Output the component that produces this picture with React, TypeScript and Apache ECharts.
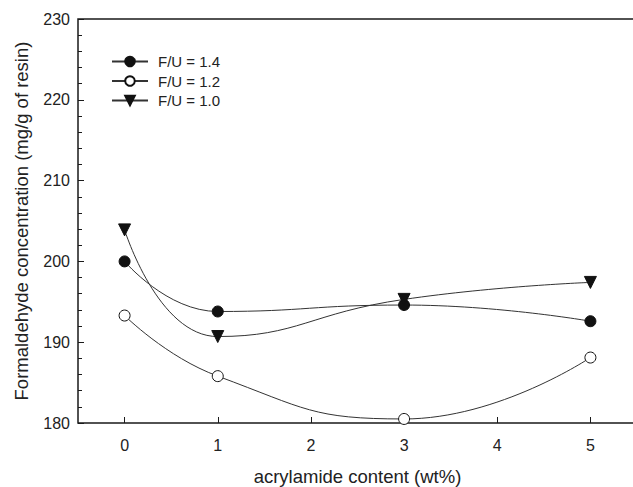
import React, { useEffect, useRef } from "react";
import * as echarts from "echarts";

const xValues = [0, 1, 3, 5];
const fu14 = [200.0, 193.8, 194.6, 192.6];
const fu12 = [193.3, 185.8, 180.5, 188.1];
const fu10 = [203.9, 190.7, 195.3, 197.4];
const seriesNames = ["F/U = 1.4", "F/U = 1.2", "F/U = 1.0"];
const xTicks = [0, 1, 2, 3, 4, 5];

const FONT = 'Arial, "Liberation Sans", sans-serif';

export default function App() {
  const ref = useRef<HTMLDivElement>(null);
  useEffect(() => {
    if (!ref.current) return;
    const chart = echarts.init(ref.current, null, { renderer: "svg" });
    const pair = (ys: number[]) => xValues.map((x, i) => [x, ys[i]]);
    const lineStyle = { color: "#333", width: 1 };
    chart.setOption({
      animation: false,
      backgroundColor: "#fff",
      textStyle: { fontFamily: FONT },
      grid: {
        left: 78,
        top: 19,
        width: 559,
        height: 404,
        containLabel: false,
        outerBoundsMode: "none",
        show: true,
        borderColor: "#1a1a1a",
        borderWidth: 1.5,
        backgroundColor: "transparent",
      },
      legend: {
        left: 106,
        top: 49,
        orient: "vertical",
        itemWidth: 36,
        itemHeight: 12,
        itemGap: 4.5,
        textStyle: { fontSize: 15, color: "#222", fontFamily: FONT, padding: [0, 0, 0, 5] },
        data: seriesNames,
      },
      xAxis: {
        type: "value",
        min: -0.5,
        max: 5.5,
        position: "bottom",
        name: "acrylamide content (wt%)",
        nameLocation: "middle",
        nameGap: 44,
        nameTextStyle: { fontSize: 18.5, color: "#222", fontFamily: FONT },
        axisLine: { show: false, onZero: false },
        axisTick: { show: true, inside: true, length: 6, customValues: xTicks, lineStyle: { color: "#1a1a1a", width: 1 } },
        axisLabel: { customValues: xTicks, fontSize: 16, color: "#222", margin: 14, fontFamily: FONT },
        splitLine: { show: false },
      },
      yAxis: {
        type: "value",
        min: 180,
        max: 230,
        interval: 10,
        position: "left",
        name: "Formaldehyde concentration (mg/g of resin)",
        nameLocation: "middle",
        nameGap: 47,
        nameTextStyle: { fontSize: 18.5, color: "#222", fontFamily: FONT },
        axisLine: { show: false, onZero: false },
        axisTick: { show: true, inside: true, length: 6, lineStyle: { color: "#1a1a1a", width: 1 } },
        minorTick: { show: true, splitNumber: 5, length: 4, lineStyle: { color: "#1a1a1a", width: 1 } },
        axisLabel: { fontSize: 16, color: "#222", margin: 8, fontFamily: FONT },
        splitLine: { show: false },
      },
      series: [
        {
          name: seriesNames[0],
          type: "line",
          smooth: true,
          data: pair(fu14),
          symbol: "circle",
          symbolSize: 11,
          lineStyle,
          itemStyle: { color: "#111", borderColor: "#111", borderWidth: 1 },
        },
        {
          name: seriesNames[1],
          type: "line",
          smooth: true,
          data: pair(fu12),
          symbol: "circle",
          symbolSize: 11,
          lineStyle,
          itemStyle: { color: "#fff", borderColor: "#111", borderWidth: 1 },
        },
        {
          name: seriesNames[2],
          type: "line",
          smooth: true,
          data: pair(fu10),
          symbol: "triangle",
          symbolRotate: 180,
          symbolSize: 12,
          lineStyle,
          itemStyle: { color: "#111", borderColor: "#111", borderWidth: 1 },
        },
      ],
    });
    return () => chart.dispose();
  }, []);
  return <div ref={ref} style={{ width: 633, height: 487, position: "absolute", left: 0, top: 0 }} />;
}
